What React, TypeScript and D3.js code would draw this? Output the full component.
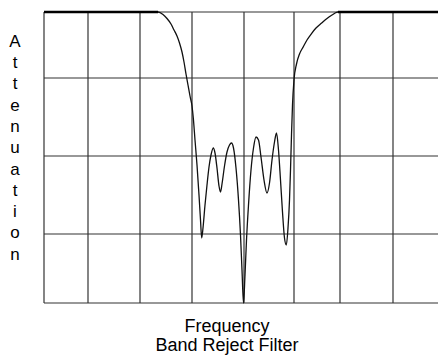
import * as d3 from "d3";

// frequency / attenuation (arbitrary units, 0 = passband)
const freq = [
  0, 114, 119, 123, 127, 130, 133, 135.5, 138, 140, 142, 144, 146, 148, 149.3, 151, 153, 155, 156.5, 157.7,
  159, 161, 163, 165, 167, 169.3, 171, 173, 175, 176.5, 178, 180.5, 183, 185.5, 187.5, 189.5, 192, 194.5,
  196.5, 198, 199.5, 201, 202.5, 204.5, 207, 209.5, 212, 214.5, 217, 220, 223, 225.5, 228, 230.5, 232.5,
  234.5, 236.5, 238.5, 240.5, 242.3, 244, 245.5, 246.5, 247.5, 248.5, 250, 252.5, 255.5, 259.3, 263, 267.7,
  272, 277.7, 283, 288, 292.5, 294, 394,
];
const atten = [
  0, 0, 2.5, 6.5, 12, 18, 24, 31, 40, 50, 62, 73, 84, 94, 106, 128, 153, 183, 208, 226,
  216, 193, 173, 155, 143, 136, 141, 156, 174, 180, 172, 154, 140, 133, 131, 136, 156, 188,
  223, 258, 291, 263, 228, 193, 158, 136, 125, 128, 145, 168, 181, 171, 148, 130, 121,
  138, 168, 200, 226, 233, 216, 188, 158, 123, 93, 68, 52, 42, 34.7, 28, 21.3,
  16, 11, 6.5, 3, 0.3, 0, 0,
];
const freqGrid = [0, 44, 96, 148, 200, 250, 296, 349];
const attenGrid = [0, 66, 144, 222, 291];
const yLabel = "Attenuation";
const xLabel = "Frequency";
const title = "Band Reject Filter";

const W = 438;
const H = 356;
const font = "'Liberation Sans', Arial, sans-serif";

export default function App() {
  const x = d3.scaleLinear().domain([0, 394]).range([44, 438]);
  const y = d3.scaleLinear().domain([0, 291]).range([12, 303]);
  const pts = freq.map((f, i) => ({ f, a: atten[i] }));

  const line = d3
    .line<{ f: number; a: number }>()
    .x((d) => x(d.f))
    .y((d) => y(d.a))
    .curve(d3.curveMonotoneX);

  // passband (flat) parts look heavier
  const pass = d3
    .line<{ f: number; a: number }>()
    .defined((d) => d.a === 0)
    .x((d) => x(d.f))
    .y((d) => y(d.a));

  return (
    <svg
      width={W}
      height={H}
      style={{ position: "absolute", left: 0, top: 0, background: "#fff" }}
    >
      <g stroke="#333" strokeWidth={1.2} fill="none">
        {freqGrid.map((f) => (
          <line key={"v" + f} x1={x(f)} x2={x(f)} y1={y(0)} y2={y(291)} />
        ))}
        {attenGrid.map((a) => (
          <line key={"h" + a} x1={x(0)} x2={W} y1={y(a)} y2={y(a)} />
        ))}
      </g>
      <path d={line(pts) || ""} fill="none" stroke="#111" strokeWidth={1.3} />
      <path d={pass(pts) || ""} fill="none" stroke="#000" strokeWidth={2.6} />
      <g fontFamily={font} fontSize={17} fill="#000" textAnchor="middle">
        {yLabel.split("").map((c, i) => (
          <text key={i} x={15} y={46.7 + i * 21.3}>
            {c}
          </text>
        ))}
      </g>
      <g fontFamily={font} fontSize={18} fill="#000" textAnchor="middle">
        <text x={227} y={332}>
          {xLabel}
        </text>
        <text x={227} y={351}>
          {title}
        </text>
      </g>
    </svg>
  );
}
